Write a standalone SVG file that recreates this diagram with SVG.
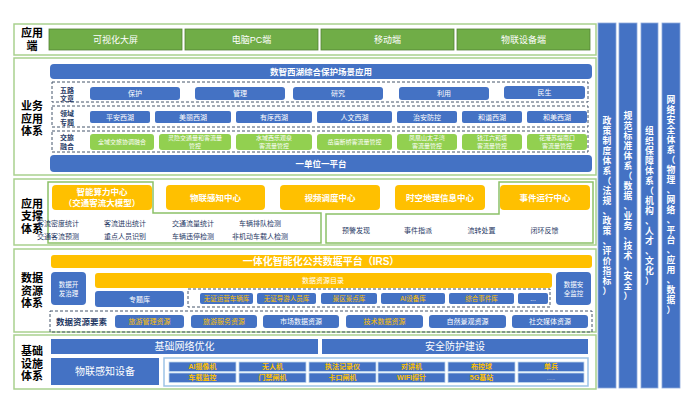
<svg xmlns="http://www.w3.org/2000/svg" width="691" height="399" viewBox="0 0 691 399">
<style>
text{font-family:"Liberation Sans","Noto Sans CJK SC",sans-serif;text-anchor:middle;dominant-baseline:central}
.row{fill:#fff;stroke:#A9D18E;stroke-width:1.5}
.lbl{font-size:11px;font-weight:bold;fill:#000}
.gbtn{fill:#70AD47;stroke:#548235;stroke-width:0.8}
.blue{fill:#4472C4}
.dash{fill:none;stroke:#44546A;stroke-width:1;stroke-dasharray:3 2}
.org{fill:#FFC000}
.lg{fill:#92D050}
.poly{fill:none;stroke:#8CC168;stroke-width:1.5}
.w{fill:#fff}
.y{fill:#FFC000}
.d{fill:#1F3864}
.b{font-weight:bold}
.cell{fill:#4472C4;stroke:#BDD7EE;stroke-width:0.8}
.vbar{fill:#4472C4;stroke:#8FAADC;stroke-width:0.8}
.vt{font-size:8.8px;font-weight:bold;fill:#fff}
</style>
<rect width="691" height="399" fill="#fff"/>
<g id="connectors"/>

<g id="layer-app-end">
<rect class="row" x="14" y="24" width="582" height="31"/>
<text class="lbl"><tspan x="32" y="33.25">应用</tspan><tspan x="32" y="45.75">端</tspan></text>
<rect class="gbtn" x="49" y="29" width="133" height="21"/>
<rect class="gbtn" x="185" y="29" width="133" height="21"/>
<rect class="gbtn" x="321" y="29" width="133" height="21"/>
<rect class="gbtn" x="457" y="29" width="133" height="21"/>
<g font-size="9">
<text class="w" x="115.5" y="39.5">可视化大屏</text>
<text class="w" x="251.5" y="39.5">电脑PC端</text>
<text class="w" x="387.5" y="39.5">移动端</text>
<text class="w" x="523.5" y="39.5">物联设备端</text>
</g>
</g>

<g id="layer-business">
<rect class="row" x="14" y="58" width="582" height="117"/>
<text class="lbl"><tspan x="32" y="106">业务</tspan><tspan x="32" y="118.5">应用</tspan><tspan x="32" y="131">体系</tspan></text>
<rect class="blue" x="50" y="64" width="542" height="15" rx="4"/>
<text class="w b" x="321" y="71.5" font-size="8.5">数智西湖综合保护场景应用</text>

<rect class="dash" x="52" y="82" width="536" height="20"/>
<text class="d b" font-size="7"><tspan x="67" y="89.5">五路</tspan><tspan x="67" y="98">文章</tspan></text>
<rect class="blue" x="90" y="87" width="90" height="13" rx="3"/>
<rect class="blue" x="195" y="87" width="90" height="13" rx="3"/>
<rect class="blue" x="293" y="87" width="90" height="13" rx="3"/>
<rect class="blue" x="399" y="87" width="90" height="13" rx="3"/>
<rect class="blue" x="504" y="86" width="81" height="13" rx="3"/>
<g font-size="7">
<text class="w" x="135" y="93.5">保护</text>
<text class="w" x="240" y="93.5">管理</text>
<text class="w" x="338" y="93.5">研究</text>
<text class="w" x="444" y="93.5">利用</text>
<text class="w" x="544.5" y="92.5">民生</text>
</g>

<rect class="dash" x="52" y="106" width="536" height="21"/>
<text class="d b" font-size="7"><tspan x="67" y="112.5">领域</tspan><tspan x="67" y="121.5">专题</tspan></text>
<rect class="blue" x="90" y="111" width="60" height="12" rx="2"/>
<rect class="blue" x="155" y="111" width="76" height="12" rx="2"/>
<rect class="blue" x="236" y="111" width="76" height="12" rx="2"/>
<rect class="blue" x="317" y="111" width="75" height="12" rx="2"/>
<rect class="blue" x="397" y="111" width="60" height="12" rx="2"/>
<rect class="blue" x="462" y="111" width="60" height="12" rx="2"/>
<rect class="blue" x="527" y="111" width="60" height="12" rx="2"/>
<g font-size="7">
<text class="w" x="120" y="117">平安西湖</text>
<text class="w" x="193" y="117">美丽西湖</text>
<text class="w" x="274" y="117">有序西湖</text>
<text class="w" x="354.5" y="117">人文西湖</text>
<text class="w" x="427" y="117">治安防控</text>
<text class="w" x="492" y="117">和谐西湖</text>
<text class="w" x="557" y="117">和美西湖</text>
</g>

<rect class="dash" x="52" y="131" width="536" height="21"/>
<text class="d b" font-size="7"><tspan x="67" y="137">交旅</tspan><tspan x="67" y="146">融合</tspan></text>
<rect class="lg" x="90" y="134" width="64" height="16" rx="3"/>
<rect class="lg" x="159" y="134" width="72" height="16" rx="3"/>
<rect class="lg" x="236" y="134" width="76" height="16" rx="3"/>
<rect class="lg" x="317" y="134" width="75" height="16" rx="3"/>
<rect class="lg" x="397" y="134" width="60" height="16" rx="3"/>
<rect class="lg" x="462" y="134" width="60" height="16" rx="3"/>
<rect class="lg" x="527" y="134" width="60" height="16" rx="3"/>
<g font-size="6">
<text class="w" x="122" y="142">全域交旅协调融合</text>
<text class="w"><tspan x="195" y="138.3">灵隐交通量和客流量</tspan><tspan x="195" y="146">管控</tspan></text>
<text class="w"><tspan x="274" y="138.3">水域西乐观泉</tspan><tspan x="274" y="146">客流量管控</tspan></text>
<text class="w" x="354.5" y="142">岳庙断桥客流量管控</text>
<text class="w"><tspan x="427" y="138.3">凤凰山太子湾</tspan><tspan x="427" y="146">客流量管控</tspan></text>
<text class="w"><tspan x="492" y="138.3">钱江六和塔</tspan><tspan x="492" y="146">客流量管控</tspan></text>
<text class="w"><tspan x="557" y="138.3">花港苏堤南口</tspan><tspan x="557" y="146">客流量管控</tspan></text>
</g>

<rect class="blue" x="50" y="155" width="542" height="17" rx="4"/>
<text class="w b" x="321" y="163.5" font-size="8.5">一单位一平台</text>
</g>

<g id="layer-support">
<rect class="row" x="14" y="179" width="582" height="66"/>
<text class="lbl"><tspan x="32" y="203.5">应用</tspan><tspan x="32" y="216">支撑</tspan><tspan x="32" y="228.5">体系</tspan></text>
<path class="poly" d="M48,182 H153 V213 H321 V243 H48 Z"/>
<path class="poly" d="M499,182 H593 V243 H326 V214 H499 Z"/>
<rect class="org" x="52" y="185" width="100" height="25" rx="4"/>
<rect class="org" x="166" y="185" width="99" height="25" rx="4"/>
<rect class="org" x="280" y="185" width="100" height="25" rx="4"/>
<rect class="org" x="395" y="185" width="90" height="25" rx="4"/>
<rect class="org" x="500" y="185" width="90" height="25" rx="4"/>
<g font-size="8.5">
<text class="w b"><tspan x="102" y="192">智能算力中心</tspan><tspan x="102" y="202.5">（交通客流大模型）</tspan></text>
<text class="w b" x="215.5" y="197.5">物联感知中心</text>
<text class="w b" x="330" y="197.5">视频调度中心</text>
<text class="w b" x="440" y="197.5">时空地理信息中心</text>
<text class="w b" x="545" y="197.5">事件运行中心</text>
</g>
<g font-size="7">
<text class="d" x="58" y="223" text-anchor="start">客流密度统计</text>
<text class="d" x="125" y="223" text-anchor="start">客流进出统计</text>
<text class="d" x="193" y="223" text-anchor="start">交通流量统计</text>
<text class="d" x="260" y="223" text-anchor="start">车辆排队检测</text>
<text class="d" x="58" y="236" text-anchor="start">交通客流预测</text>
<text class="d" x="125" y="236" text-anchor="start">重点人员识别</text>
<text class="d" x="193" y="236" text-anchor="start">车辆违停检测</text>
<text class="d" x="260" y="236" text-anchor="start">非机动车载人检测</text>
</g>
<g font-size="7">
<text class="d" x="356" y="230">预警发现</text>
<text class="d" x="418" y="230">事件指派</text>
<text class="d" x="481.5" y="230">流转处置</text>
<text class="d" x="544.5" y="230">闭环反馈</text>
</g>
</g>

<g id="layer-data">
<rect class="row" x="14" y="249" width="582" height="83"/>
<text class="lbl"><tspan x="32" y="278">数据</tspan><tspan x="32" y="290.5">资源</tspan><tspan x="32" y="303">体系</tspan></text>
<rect class="org" x="51" y="255" width="541" height="13" rx="3"/>
<text class="w b" x="321" y="261.5" font-size="10">一体化智能化公共数据平台（IRS）</text>
<rect class="blue" x="51" y="272" width="35" height="33" rx="4"/>
<text class="w" font-size="6.5"><tspan x="68.5" y="284">数据开</tspan><tspan x="68.5" y="293">发治理</tspan></text>
<rect class="org" x="95" y="273" width="457" height="15" rx="3"/>
<text class="w" x="323" y="280.5" font-size="7">数据资源目录</text>
<rect class="blue" x="556" y="272" width="35" height="33" rx="4"/>
<text class="w" font-size="6.5"><tspan x="573.5" y="284">数据安</tspan><tspan x="573.5" y="293">全监控</tspan></text>
<rect class="blue" x="95" y="291" width="89" height="16" rx="3"/>
<text class="w" x="139.5" y="299" font-size="7">专题库</text>
<rect class="dash" x="188" y="289" width="362" height="18"/>
<rect class="blue" x="200" y="293" width="53" height="11" rx="2"/>
<rect class="blue" x="257" y="293" width="59" height="11" rx="2"/>
<rect class="blue" x="321" y="293" width="56" height="11" rx="2"/>
<rect class="blue" x="381" y="293" width="64" height="11" rx="2"/>
<rect class="blue" x="449" y="293" width="65" height="11" rx="2"/>
<rect class="blue" x="518" y="293" width="30" height="11" rx="2"/>
<g font-size="6.5">
<text class="y" x="226.5" y="298.5">无证运营车辆库</text>
<text class="y" x="286.5" y="298.5">无证导游人员库</text>
<text class="y" x="349" y="298.5">景区景点库</text>
<text class="y" x="413" y="298.5">AI设备库</text>
<text class="y" x="481.5" y="298.5">综合事件库</text>
<text class="w" x="533" y="298.5">...</text>
</g>
<rect class="dash" x="50" y="311" width="542" height="21"/>
<text class="d b" x="81.5" y="321.5" font-size="8.5">数据资源要素</text>
<rect class="blue" x="115" y="315" width="69" height="13" rx="3"/>
<rect class="blue" x="191" y="315" width="66" height="13" rx="3"/>
<rect class="blue" x="263" y="315" width="76" height="13" rx="3"/>
<rect class="blue" x="346" y="315" width="77" height="13" rx="3"/>
<rect class="blue" x="429" y="315" width="77" height="13" rx="3"/>
<rect class="blue" x="512" y="315" width="76" height="13" rx="3"/>
<g font-size="7">
<text class="y" x="149.5" y="321.5">旅游管理资源</text>
<text class="y" x="224" y="321.5">旅游服务资源</text>
<text class="w" x="301" y="321.5">市场数据资源</text>
<text class="y" x="384.5" y="321.5">技术数据资源</text>
<text class="w" x="467.5" y="321.5">自然景观资源</text>
<text class="w" x="550" y="321.5">社交媒体资源</text>
</g>
</g>

<g id="layer-infra">
<rect class="row" x="14" y="335" width="582" height="54"/>
<text class="lbl"><tspan x="32" y="351">基础</tspan><tspan x="32" y="363.5">设施</tspan><tspan x="32" y="376">体系</tspan></text>
<rect class="blue" x="51" y="339" width="267" height="15"/>
<text class="w" x="184.5" y="346.5" font-size="10">基础网络优化</text>
<rect class="blue" x="322" y="339" width="266" height="15"/>
<text class="w" x="455" y="346.5" font-size="10">安全防护建设</text>
<rect class="blue" x="51" y="358" width="108" height="27"/>
<text class="w" x="105" y="371.5" font-size="10">物联感知设备</text>
<rect x="164" y="358" width="424" height="28" fill="#fff" stroke="#9DC3E6" stroke-width="1.5"/>
<rect class="cell" x="169" y="362" width="67" height="9.5"/>
<rect class="cell" x="239" y="362" width="67" height="9.5"/>
<rect class="cell" x="309" y="362" width="67" height="9.5"/>
<rect class="cell" x="378" y="362" width="67" height="9.5"/>
<rect class="cell" x="448" y="362" width="67" height="9.5"/>
<rect class="cell" x="518" y="362" width="66" height="9.5"/>
<rect class="cell" x="169" y="373" width="67" height="9.5"/>
<rect class="cell" x="239" y="373" width="67" height="9.5"/>
<rect class="cell" x="309" y="373" width="67" height="9.5"/>
<rect class="cell" x="378" y="373" width="67" height="9.5"/>
<rect class="cell" x="448" y="373" width="67" height="9.5"/>
<rect class="cell" x="518" y="373" width="66" height="9.5"/>
<g font-size="7">
<text class="y b" x="202.5" y="366.75">AI摄像机</text>
<text class="y b" x="272.5" y="366.75">无人机</text>
<text class="y b" x="342.5" y="366.75">执法记录仪</text>
<text class="y b" x="411.5" y="366.75">对讲机</text>
<text class="y b" x="481.5" y="366.75">布控球</text>
<text class="y b" x="551" y="366.75">单兵</text>
<text class="y b" x="202.5" y="377.75">车载监控</text>
<text class="y b" x="272.5" y="377.75">门禁闸机</text>
<text class="y b" x="342.5" y="377.75">卡口闸机</text>
<text class="y b" x="411.5" y="377.75">WIFI探针</text>
<text class="y b" x="481.5" y="377.75">5G基站</text>
<text x="551" y="377.75" font-size="5" fill="#D9D9D9">......</text>
</g>
</g>

<g id="pillar-policy">
<rect class="vbar" x="598" y="23" width="18" height="365"/>
<text class="vt"><tspan x="607" y="121">政</tspan><tspan x="607" dy="10">策</tspan><tspan x="607" dy="10">制</tspan><tspan x="607" dy="10">度</tspan><tspan x="607" dy="10">体</tspan><tspan x="607" dy="10">系</tspan><tspan x="607" dy="10">（</tspan><tspan x="607" dy="10">法</tspan><tspan x="607" dy="10">规</tspan><tspan x="607" dy="10">、</tspan><tspan x="607" dy="10">政</tspan><tspan x="607" dy="10">策</tspan><tspan x="607" dy="10">、</tspan><tspan x="607" dy="10">评</tspan><tspan x="607" dy="10">价</tspan><tspan x="607" dy="10">指</tspan><tspan x="607" dy="10">标</tspan><tspan x="607" dy="10">）</tspan></text>
</g>
<g id="pillar-standard">
<rect class="vbar" x="619" y="23" width="18" height="365"/>
<text class="vt"><tspan x="628" y="116">规</tspan><tspan x="628" dy="10">范</tspan><tspan x="628" dy="10">标</tspan><tspan x="628" dy="10">准</tspan><tspan x="628" dy="10">体</tspan><tspan x="628" dy="10">系</tspan><tspan x="628" dy="10">（</tspan><tspan x="628" dy="10">数</tspan><tspan x="628" dy="10">据</tspan><tspan x="628" dy="10">、</tspan><tspan x="628" dy="10">业</tspan><tspan x="628" dy="10">务</tspan><tspan x="628" dy="10">、</tspan><tspan x="628" dy="10">技</tspan><tspan x="628" dy="10">术</tspan><tspan x="628" dy="10">、</tspan><tspan x="628" dy="10">安</tspan><tspan x="628" dy="10">全</tspan><tspan x="628" dy="10">）</tspan></text>
</g>
<g id="pillar-organization">
<rect class="vbar" x="641" y="23" width="17" height="365"/>
<text class="vt"><tspan x="649.5" y="131">组</tspan><tspan x="649.5" dy="10">织</tspan><tspan x="649.5" dy="10">保</tspan><tspan x="649.5" dy="10">障</tspan><tspan x="649.5" dy="10">体</tspan><tspan x="649.5" dy="10">系</tspan><tspan x="649.5" dy="10">（</tspan><tspan x="649.5" dy="10">机</tspan><tspan x="649.5" dy="10">构</tspan><tspan x="649.5" dy="10">、</tspan><tspan x="649.5" dy="10">人</tspan><tspan x="649.5" dy="10">才</tspan><tspan x="649.5" dy="10">、</tspan><tspan x="649.5" dy="10">文</tspan><tspan x="649.5" dy="10">化</tspan><tspan x="649.5" dy="10">）</tspan></text>
</g>
<g id="pillar-security">
<rect class="vbar" x="662" y="23" width="18" height="365"/>
<text class="vt"><tspan x="671" y="100">网</tspan><tspan x="671" dy="10">络</tspan><tspan x="671" dy="10">安</tspan><tspan x="671" dy="10">全</tspan><tspan x="671" dy="10">体</tspan><tspan x="671" dy="10">系</tspan><tspan x="671" dy="10">（</tspan><tspan x="671" dy="10">物</tspan><tspan x="671" dy="10">理</tspan><tspan x="671" dy="10">、</tspan><tspan x="671" dy="10">网</tspan><tspan x="671" dy="10">络</tspan><tspan x="671" dy="10">、</tspan><tspan x="671" dy="10">平</tspan><tspan x="671" dy="10">台</tspan><tspan x="671" dy="10">、</tspan><tspan x="671" dy="10">应</tspan><tspan x="671" dy="10">用</tspan><tspan x="671" dy="10">、</tspan><tspan x="671" dy="10">数</tspan><tspan x="671" dy="10">据</tspan><tspan x="671" dy="10">）</tspan></text>
</g>
</svg>
